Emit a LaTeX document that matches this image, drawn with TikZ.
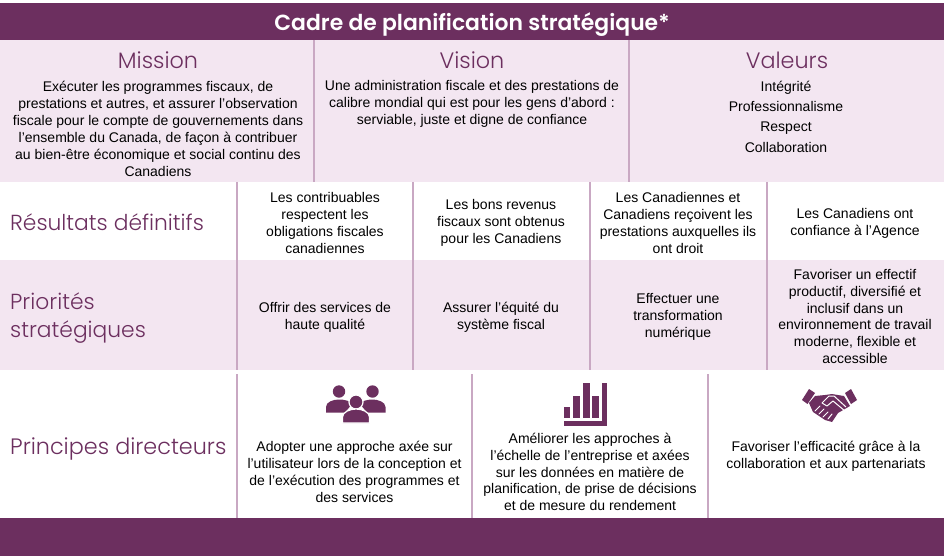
\documentclass[tikz,border=0pt]{standalone}
\usepackage{fontspec}
\setmainfont{Liberation Sans}
\newfontfamily\headfont{Poppins Light}
\newfontfamily\titlefont{Poppins SemiBold}
\definecolor{plum}{HTML}{6C2F5F}
\definecolor{pinkbg}{HTML}{F3E6F1}
\definecolor{rulecol}{HTML}{C9A8C3}
\tikzset{
  bodytxt/.style={font=\fontsize{14}{16.85}\selectfont,align=center,text=black,inner sep=0pt},
  headtxt/.style={font=\headfont\fontsize{22.3}{30}\selectfont,text=plum,inner sep=0pt},
  sidetxt/.style={font=\headfont\fontsize{21.8}{28}\selectfont,text=plum,inner sep=0pt,align=left,anchor=west},
  vrule/.style={draw=rulecol,line width=1.1pt},
  icon/.style={fill=plum,draw=none},
}
\begin{document}
\begin{tikzpicture}[x=1pt,y=-1pt]
\useasboundingbox (0,0) rectangle (944,556);
\fill[white] (0,0) rectangle (944,556);
\fill[plum] (0,3) rectangle (944,40);
\fill[pinkbg] (0,40) rectangle (944,182);
\fill[pinkbg] (0,260) rectangle (944,370);
\fill[plum] (0,518) rectangle (944,556);
\foreach \x in {314,629} \draw[vrule] (\x,40) -- (\x,182);
\foreach \x in {237,413,590,767} \draw[vrule] (\x,182) -- (\x,370);
\foreach \x in {237,472,708} \draw[vrule] (\x,374) -- (\x,518);

\node[font=\titlefont\fontsize{21.9}{26}\selectfont,text=white,inner sep=0pt] (title) at (472,25) {Cadre de planification stratégique*};

\node[headtxt] (mission) at (158,60) {Mission};
\node[headtxt] (vision) at (472,60) {Vision};
\node[headtxt] (valeurs) at (787,60) {Valeurs};

\node[bodytxt] (missiontxt) at (158,129) {Exécuter les programmes fiscaux, de\\prestations et autres, et assurer l’observation\\fiscale pour le compte de gouvernements dans\\l’ensemble du Canada, de façon à contribuer\\au bien-être économique et social continu des\\Canadiens};
\node[bodytxt] (visiontxt) at (472,104) {Une administration fiscale et des prestations de\\calibre mondial qui est pour les gens d’abord :\\serviable, juste et digne de confiance};
\node[bodytxt,anchor=base] (v1) at (786,91.5) {Intégrité};
\node[bodytxt,anchor=base] (v2) at (786,111.5) {Professionnalisme};
\node[bodytxt,anchor=base] (v3) at (786,132) {Respect};
\node[bodytxt,anchor=base] (v4) at (786,153) {Collaboration};

\node[sidetxt] (res) at (10,222) {Résultats définitifs};
\node[sidetxt] (prio) at (10,318.5) {Priorités\\stratégiques};
\node[sidetxt,font=\headfont\fontsize{22.3}{28}\selectfont] (princ) at (10,449) {Principes directeurs};

\node[bodytxt] (r1) at (325,223) {Les contribuables\\respectent les\\obligations fiscales\\canadiennes};
\node[bodytxt] (r2) at (501,223) {Les bons revenus\\fiscaux sont obtenus\\pour les Canadiens};
\node[bodytxt] (r3) at (678,223) {Les Canadiennes et\\Canadiens reçoivent les\\prestations auxquelles ils\\ont droit};
\node[bodytxt] (r4) at (855,223) {Les Canadiens ont\\confiance à l’Agence};

\node[bodytxt] (p1) at (325,317) {Offrir des services de\\haute qualité};
\node[bodytxt] (p2) at (501,317) {Assurer l’équité du\\système fiscal};
\node[bodytxt] (p3) at (678,317) {Effectuer une\\transformation\\numérique};
\node[bodytxt] (p4) at (855,316.5) {Favoriser un effectif\\productif, diversifié et\\inclusif dans un\\environnement de travail\\moderne, flexible et\\accessible};

\node[bodytxt] (g1) at (354.5,472) {Adopter une approche axée sur\\l’utilisateur lors de la conception et\\de l’exécution des programmes et\\des services};
\node[bodytxt] (g2) at (590,472) {Améliorer les approches à\\l’échelle de l’entreprise et axées\\sur les données en matière de\\planification, de prise de décisions\\et de mesure du rendement};
\node[bodytxt] (g3) at (826,456) {Favoriser l’efficacité grâce à la\\collaboration et aux partenariats};

% people icon
\begin{scope}
\fill[icon] (339,391.5) circle (6.2);
\fill[icon] (372.5,391.5) circle (6.2);
\fill[icon] (326,412.5) -- (326,407) .. controls (326,402) and (333,399.5) .. (339,399.5) .. controls (345,399.5) and (350,401) .. (352,404) -- (345,412.5) -- cycle;
\fill[icon] (385.5,412.5) -- (385.5,407) .. controls (385.5,402) and (378,399.5) .. (372.5,399.5) .. controls (367,399.5) and (362,401) .. (360,404) -- (367,412.5) -- cycle;
\draw[white,line width=1.2pt,fill=plum] (356,402) circle (7);
\draw[white,line width=1.2pt,fill=plum] (342.5,423) -- (342.5,417) .. controls (342.5,412) and (350,409) .. (356,409) .. controls (362,409) and (369.5,412) .. (369.5,417) -- (369.5,423) -- cycle;
\end{scope}

% chart icon
\begin{scope}
\fill[icon] (563.5,407) rectangle (570,418);
\fill[icon] (573,396) rectangle (580,418);
\fill[icon] (582.5,383) rectangle (589.5,418);
\fill[icon] (592,396) rectangle (599,418);
\fill[icon] (601.5,383) rectangle (606.5,426);
\fill[icon] (563.5,421) rectangle (606.5,426);
\end{scope}

% handshake icon
\begin{scope}
\fill[icon] (802,400) -- (809,389) -- (815,393) -- (807.5,404) -- cycle;
\fill[icon] (845,393) -- (851,389) -- (857,400) -- (851,404) -- cycle;
\fill[icon] (815,396) -- (825,395) -- (832,394) -- (844,396) -- (850,406) -- (838,413) -- (832,422) -- (825,420) -- (813,412) -- (809,403) -- cycle;
\draw[white,line width=1pt,line join=round] (846,407) -- (834,396) -- (829,396) -- (822,403) -- (827,406) -- (833,401) -- (845,411);
\draw[white,line width=1pt,line cap=round] (815,411) -- (820,406) (819,414) -- (824,409) (823,417) -- (828,412) (828,419) -- (832,414);
\end{scope}
\end{tikzpicture}
\end{document}
